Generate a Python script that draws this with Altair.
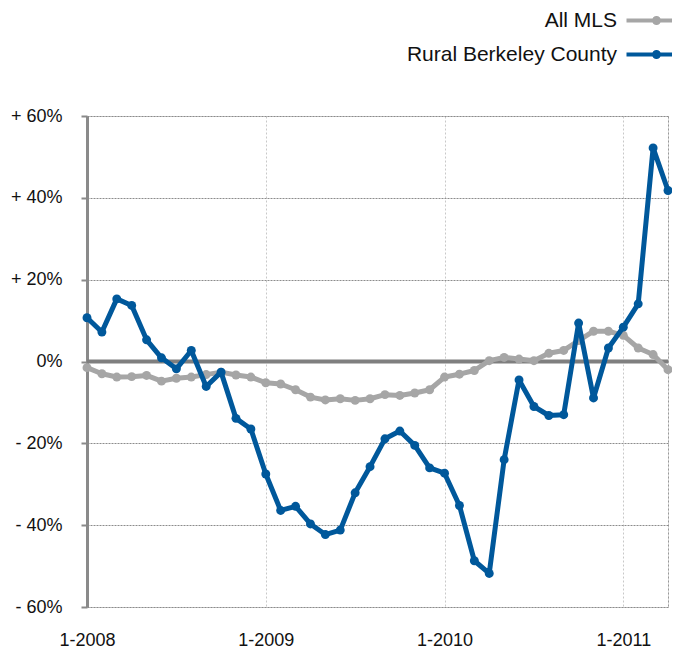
import json
import altair as alt
import pandas as pd

series_names = ["All MLS", "Rural Berkeley County"]
x_tick_values = [0, 12, 24, 36]
x_tick_labels = ["1-2008", "1-2009", "1-2010", "1-2011"]
y_tick_values = [-60, -40, -20, 0, 20, 40, 60]
y_tick_labels = ["- 60%", "- 40%", "- 20%", "0%", "+ 20%", "+ 40%", "+ 60%"]

# monthly values, Jan 2008 .. Apr 2011 (percent change)
all_mls = [-1.5, -3.0, -3.8, -3.7, -3.4, -4.8, -4.1, -3.8, -3.2, -2.6, -3.3, -3.8,
           -5.2, -5.5, -6.9, -8.7, -9.4, -9.1, -9.5, -9.1, -8.1, -8.3, -7.7, -6.9,
           -3.8, -3.1, -2.2, 0.2, 1.0, 0.6, 0.2, 2.0, 2.7, 5.1, 7.4, 7.4,
           6.4, 3.3, 1.7, -2.0]
rural = [10.7, 7.2, 15.3, 13.7, 5.3, 0.9, -1.8, 2.7, -6.1, -2.6, -13.9, -16.5,
         -27.5, -36.4, -35.4, -39.7, -42.3, -41.2, -32.1, -25.7, -18.9, -17.0, -20.5, -26.0,
         -27.3, -35.2, -48.7, -51.8, -24.0, -4.5, -11.0, -13.2, -13.0, 9.4, -8.9, 3.3,
         8.4, 14.1, 52.2, 41.8]

rows = []
for name, vals in zip(series_names, [all_mls, rural]):
    for i, v in enumerate(vals):
        rows.append({"m": i, "series": name, "value": v})
df = pd.DataFrame(rows)

GRAY = "#a6a6a6"
BLUE = "#00589b"
FONT = "Liberation Sans"
last_m = len(rural) - 1

x_label_expr = "{}[indexof({}, datum.value)] || ''".format(
    json.dumps(x_tick_labels), json.dumps(x_tick_values))
y_label_expr = "{}[indexof({}, datum.value)]".format(
    json.dumps(y_tick_labels), json.dumps(y_tick_values))

x_enc = alt.X(
    "m:Q",
    scale=alt.Scale(domain=[0, last_m], nice=False, zero=False),
    axis=alt.Axis(
        values=x_tick_values + [last_m],
        labelExpr=x_label_expr,
        title=None,
        domain=False,
        ticks=False,
        labelPadding=24,
        labelFlush=False,
        labelOverlap=False,
        labelFontSize=18,
        labelFont=FONT,
        labelColor="#111111",
        labelBaseline="top",
        grid=True,
        gridDash=[2, 2],
        gridWidth=1,
        gridColor={"condition": {"test": "datum.value == %d" % last_m, "value": "#999999"},
                   "value": "#c8c8c8"},
    ),
)
y_enc = alt.Y(
    "value:Q",
    scale=alt.Scale(domain=[-60, 60], nice=False),
    axis=alt.Axis(
        values=y_tick_values,
        labelExpr=y_label_expr,
        title=None,
        domain=True,
        domainColor="#8a8a8a",
        domainWidth=3,
        ticks=True,
        tickColor="#8a8a8a",
        tickWidth=2,
        tickSize=6,
        labelPadding=19,
        labelFlush=False,
        labelOverlap=False,
        labelFontSize=18,
        labelFont=FONT,
        labelColor="#111111",
        grid=True,
        gridDash=[2, 1],
        gridColor="#8c8c8c",
        gridWidth=1,
    ),
)

# legend glyph: a 60px line with a dot in the middle (path units are scaled by 5px)
legend_symbol = "M-6,0H6M-0.5,0A0.5,0.5,0,1,1,0.5,0A0.5,0.5,0,1,1,-0.5,0"

color_line = alt.Color(
    "series:N",
    scale=alt.Scale(domain=series_names, range=[GRAY, BLUE]),
    legend=alt.Legend(
        title=None,
        orient="none",
        legendX=559,
        legendY=-106,
        symbolType=legend_symbol,
        symbolSize=100,
        symbolStrokeWidth=4,
        labelAlign="right",
        labelOffset={"expr": "-50"},
        labelLimit=400,
        labelFontSize=21,
        labelFont=FONT,
        labelColor="#111111",
        rowPadding=12,
        padding=0,
    ),
)
color_pt = alt.Color("series:N", scale=alt.Scale(domain=series_names, range=[GRAY, BLUE]), legend=None)

base = alt.Chart(df)

zero = alt.Chart(pd.DataFrame({"z": [0]})).mark_rule(color="#7f7f7f", strokeWidth=4).encode(
    y=alt.Y("z:Q", scale=alt.Scale(domain=[-60, 60], nice=False))
)

lines = base.mark_line(strokeWidth=5, strokeJoin="round", strokeCap="round").encode(
    x=x_enc, y=y_enc, color=color_line,
    order="m:Q",
)
points = base.mark_circle(size=80, opacity=1).encode(
    x="m:Q", y="value:Q", color=color_pt
)

gray_l = lines.transform_filter(alt.datum.series == series_names[0])
blue_l = lines.transform_filter(alt.datum.series == series_names[1])
gray_p = points.transform_filter(alt.datum.series == series_names[0])
blue_p = points.transform_filter(alt.datum.series == series_names[1])

chart = alt.layer(zero, gray_l, gray_p, blue_l, blue_p).properties(
    width=581,
    height=491,
    autosize=alt.AutoSizeParams(type="none"),
    padding={"left": 79, "top": 108, "right": 4, "bottom": 41},
).configure_view(stroke=None).configure(background="white")

chart.save("out.html", embed_options={"renderer": "svg", "actions": False})
